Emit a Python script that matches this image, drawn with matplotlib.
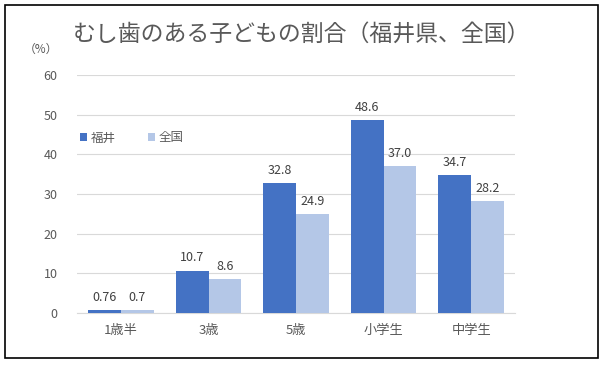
import matplotlib.pyplot as plt
import numpy as np
from matplotlib.patches import Rectangle

plt.rcParams['font.family'] = ['Noto Sans CJK JP', 'DejaVu Sans']

categories = ["1歳半", "3歳", "5歳", "小学生", "中学生"]
fukui = [0.76, 10.7, 32.8, 48.6, 34.7]
national = [0.7, 8.6, 24.9, 37.0, 28.2]
fukui_labels = ["0.76", "10.7", "32.8", "48.6", "34.7"]
national_labels = ["0.7", "8.6", "24.9", "37.0", "28.2"]

fig = plt.figure(figsize=(6.03, 3.65), dpi=100)
fig.patches.append(Rectangle((0.008, 0.018), 0.984, 0.968, transform=fig.transFigure,
                             fill=False, edgecolor='black', linewidth=1.2))
ax = fig.add_axes([0.128, 0.1425, 0.726, 0.652])

x = np.arange(len(categories))
w = 0.375
b1 = ax.bar(x - w / 2, fukui, w, color='#4472C4', label='福井', zorder=3)
b2 = ax.bar(x + w / 2, national, w, color='#B4C7E7', label='全国', zorder=3)

for bars, labels in [(b1, fukui_labels), (b2, national_labels)]:
    for rect, lab in zip(bars, labels):
        ax.text(rect.get_x() + rect.get_width() / 2, rect.get_height() + 1.6, lab,
                ha='center', va='bottom', fontsize=9, color='#404040')

ax.set_xlim(-0.5, 4.5)
ax.set_ylim(0, 60)
ax.set_yticks(range(0, 61, 10))
ax.set_xticks(x)
ax.set_xticklabels(categories, fontsize=9.5)
ax.grid(axis='y', color='#D9D9D9', linewidth=0.8, zorder=0)
for s in ['top', 'right', 'left']:
    ax.spines[s].set_visible(False)
ax.spines['bottom'].set_color('#D9D9D9')
ax.tick_params(axis='both', length=0, labelcolor='#595959')
ax.tick_params(axis='y', pad=14, labelsize=9)
ax.tick_params(axis='x', pad=8)

ax.legend(loc='upper left', bbox_to_anchor=(-0.02, 0.81), ncol=2, frameon=False,
          fontsize=9, handlelength=0.55, handleheight=0.55, handletextpad=0.3,
          columnspacing=2.6, labelcolor='#595959')

fig.text(0.5, 0.905, "むし歯のある子どもの割合（福井県、全国）", ha='center', va='center',
         fontsize=16.5, color='#595959')
fig.text(0.068, 0.865, "（%）", ha='center', va='center', fontsize=8.5, color='#595959')

fig.savefig("out.png", dpi=100)
